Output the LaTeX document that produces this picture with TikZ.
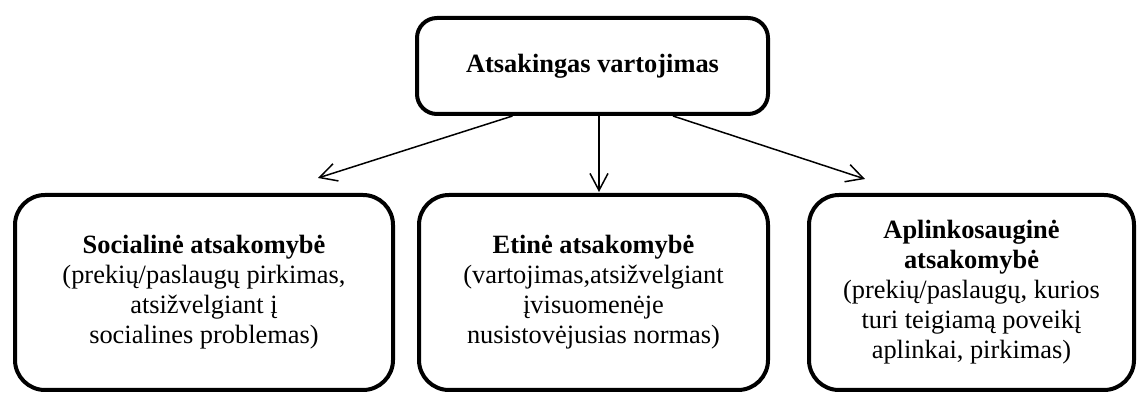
\documentclass[tikz,border=0pt]{standalone}
\usepackage{fontspec}
\setmainfont{Liberation Serif}
\usetikzlibrary{arrows.meta}

\begin{document}
\begin{tikzpicture}
  [x=0.5pt,y=-0.5pt,
   every node/.style={draw,line width=2pt,align=center,inner sep=0pt,
     font=\fontsize{13.2}{15}\selectfont},
   topbox/.style={rounded corners=10pt,minimum width=175.5pt,minimum height=48pt},
   subbox/.style={rounded corners=15pt,minimum height=97.5pt},
   arrow/.style={line width=0.75pt,-{Straight Barb[length=8.5pt,width=9pt]}}]
  \useasboundingbox (0,0) rectangle (1139,394);

  % Viršutinis blokas
  \node[topbox] (av) at (592.5,66) {\textbf{Atsakingas vartojimas}};

  % Apatiniai blokai
  \node[subbox,minimum width=189pt] (soc) at (204,292.5)
    {\textbf{Socialinė atsakomybė}\\(prekių/paslaugų pirkimas,\\atsižvelgiant į\\socialines problemas)};
  \node[subbox,minimum width=174.5pt] (eti) at (593.5,292.5)
    {\textbf{Etinė atsakomybė}\\(vartojimas,atsižvelgiant\\įvisuomenėje\\nusistovėjusias normas)};
  \node[subbox,minimum width=162.5pt] (apl) at (971.5,292.5)
    {\textbf{Aplinkosauginė}\\\textbf{atsakomybė}\\(prekių/paslaugų, kurios\\turi teigiamą poveikį\\aplinkai, pirkimas)};

  % Rodyklių pradžios ir galai
  \coordinate (sL) at ([xshift=-40pt]av.south);
  \coordinate (sM) at ([xshift=3.25pt]av.south);
  \coordinate (sR) at ([xshift=40.25pt]av.south);
  \coordinate (tL) at (318,178);
  \coordinate (tM) at (599,192);
  \coordinate (tR) at (865,179);

  \foreach \from/\to in {sL/tL, sM/tM, sR/tR}
    \draw[arrow] (\from) -- (\to);
\end{tikzpicture}
\end{document}
